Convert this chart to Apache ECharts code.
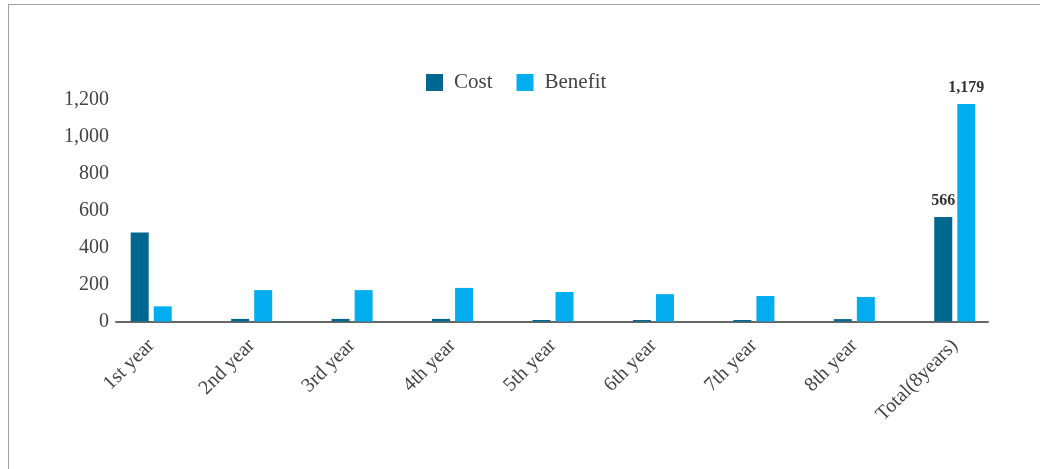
<!DOCTYPE html>
<html>
<head>
<meta charset="utf-8">
<script src="https://cdn.jsdelivr.net/npm/echarts@6/dist/echarts.min.js"></script>
<style>
html,body{margin:0;padding:0;background:#fff;}
#frame{position:absolute;left:8px;top:4px;width:1100px;height:600px;border-left:1px solid #a0a0a0;border-top:1px solid #a0a0a0;}
#chart{position:absolute;left:0;top:0;width:1040px;height:469px;}
</style>
</head>
<body>
<div id="frame"></div>
<div id="chart"></div>
<script>
var categories = ['1st year','2nd year','3rd year','4th year','5th year','6th year','7th year','8th year','Total(8years)'];
var costValues = [482, 14, 14, 14, 8, 8, 8, 13, 566];
var benefitValues = [82, 170, 170, 182, 160, 148, 138, 133, 1179];
var yTicks = [0, 200, 400, 600, 800, 1000, 1200];
var labelIndex = 8;

var FONT = '"Liberation Serif", serif';
var fmt = function (v) { return Number(v).toLocaleString('en-US'); };

function withLabel(arr) {
  return arr.map(function (v, i) {
    if (i === labelIndex) {
      return { value: v, label: { show: true, position: 'top', distance: 8, fontFamily: FONT, fontSize: 16, fontWeight: 'bold', color: '#333', formatter: function (p) { return fmt(p.value); } } };
    }
    return v;
  });
}

var chart = echarts.init(document.getElementById('chart'), null, { renderer: 'canvas' });
chart.setOption({
  animation: false,
  textStyle: { fontFamily: FONT },
  legend: {
    left: 421, top: 67,
    itemWidth: 17, itemHeight: 17, itemGap: 24,
    icon: 'rect',
    textStyle: { fontFamily: FONT, fontSize: 21, color: '#444', padding: [0, 0, 0, 6] },
    data: ['Cost', 'Benefit']
  },
  grid: [
    { left: 101, right: 35, top: 100, bottom: 147.5 },
    { left: 116, right: 52, top: 100, bottom: 147.5 }
  ],
  xAxis: [
    {
      type: 'category', gridIndex: 0, data: categories,
      axisLine: { show: false }, axisTick: { show: false },
      axisLabel: { rotate: 45, margin: 21, interval: 0, fontFamily: FONT, fontSize: 20, color: '#444' }
    },
    {
      type: 'category', gridIndex: 1, data: categories,
      axisLine: { show: true, lineStyle: { color: '#666', width: 2 } },
      axisTick: { show: false }, axisLabel: { show: false }
    }
  ],
  yAxis: [
    {
      type: 'value', gridIndex: 0, min: 0, max: 1200, interval: 200,
      axisLine: { show: false }, axisTick: { show: false }, axisLabel: { show: false }, splitLine: { show: false }
    },
    {
      type: 'value', gridIndex: 1, min: yTicks[0], max: yTicks[yTicks.length - 1], interval: yTicks[1] - yTicks[0],
      axisLine: { show: false }, axisTick: { show: false }, splitLine: { show: false },
      axisLabel: { margin: 7, fontFamily: FONT, fontSize: 20, color: '#444', formatter: function (v) { return fmt(v); } }
    }
  ],
  series: [
    { name: 'Cost', type: 'bar', xAxisIndex: 0, yAxisIndex: 0, barWidth: 18, barGap: '28%', itemStyle: { color: '#006890' }, data: withLabel(costValues) },
    { name: 'Benefit', type: 'bar', xAxisIndex: 0, yAxisIndex: 0, barWidth: 18, barGap: '28%', itemStyle: { color: '#00AEEF' }, data: withLabel(benefitValues) }
  ]
});
</script>
</body>
</html>
